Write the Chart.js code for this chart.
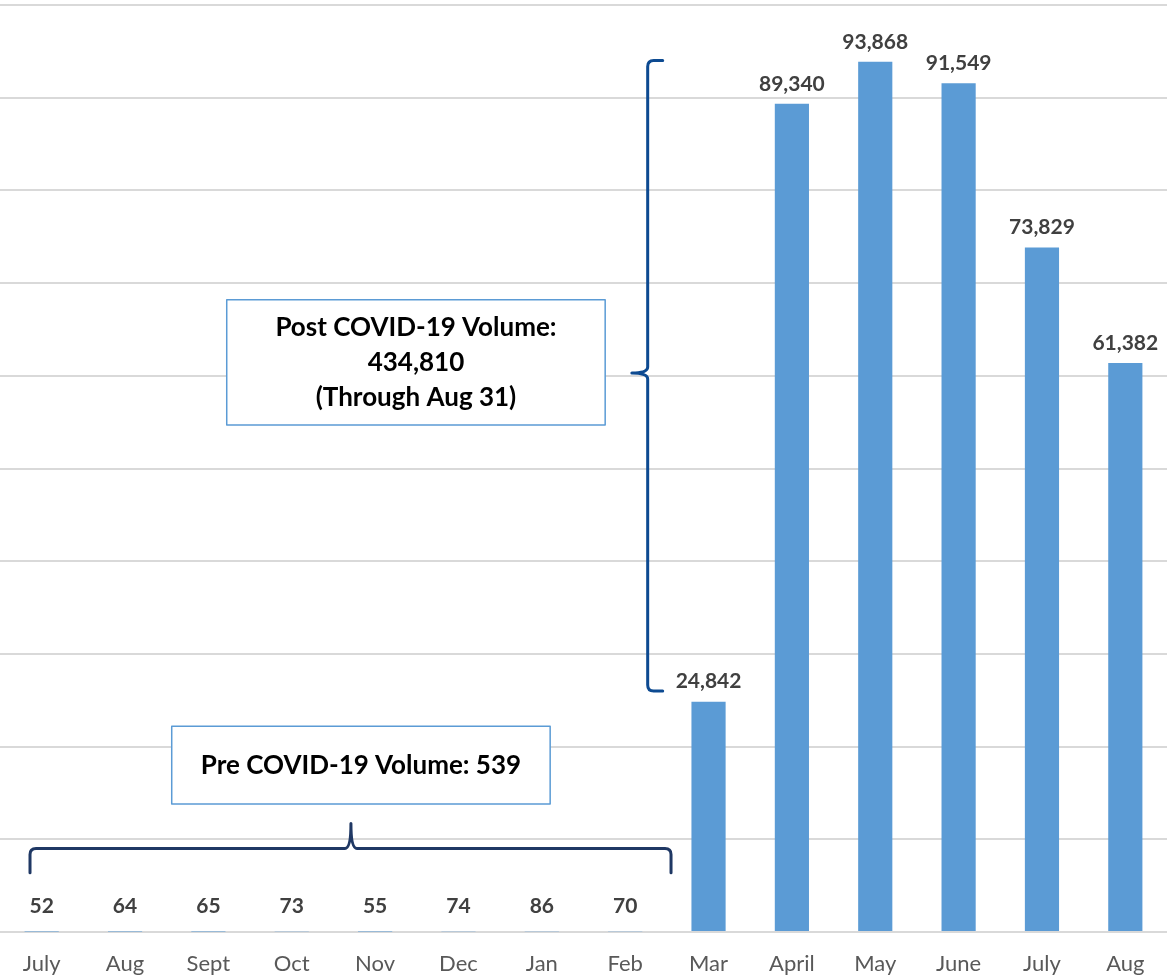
<!DOCTYPE html>
<html>
<head>
<meta charset="utf-8">
<script src="https://cdn.jsdelivr.net/npm/chart.js@4/dist/chart.umd.min.js"></script>
<style>
  html, body { margin: 0; padding: 0; background: #fff; }
  #wrap { width: 1167px; height: 977px; }
</style>
</head>
<body>
<div id="wrap"><canvas id="volumeChart" width="1167" height="977"></canvas></div>
<script>
var months = ['July', 'Aug', 'Sept', 'Oct', 'Nov', 'Dec', 'Jan', 'Feb', 'Mar', 'April', 'May', 'June', 'July', 'Aug'];
var volumes = [52, 64, 65, 73, 55, 74, 86, 70, 24842, 89340, 93868, 91549, 73829, 61382];
var yTicks = [0, 10000, 20000, 30000, 40000, 50000, 60000, 70000, 80000, 90000, 100000];

var postText = ['Post COVID-19 Volume:', '434,810', '(Through Aug 31)'];
var preText = ['Pre COVID-19 Volume: 539'];

var fontFamily = 'Lato, "Open Sans", sans-serif';

// value labels above each bar
var barLabels = {
    id: 'barLabels',
    afterDatasetsDraw(chart) {
        var ctx = chart.ctx;
        var meta = chart.getDatasetMeta(0);
        ctx.save();
        ctx.font = 'bold 21px ' + fontFamily;
        ctx.fillStyle = '#404040';
        ctx.textAlign = 'center';
        ctx.textBaseline = 'middle';
        meta.data.forEach(function (bar, i) {
            var v = volumes[i];
            var off = v < 1000 ? 25 : 20;
            ctx.fillText(v.toLocaleString('en-US'), bar.x, bar.y - off);
        });
        ctx.restore();
    }
};

// braces and text boxes, placed in axis units
var notes = {
    id: 'notes',
    afterDatasetsDraw(chart) {
        var ctx = chart.ctx;
        var xs = chart.scales.x;
        var ys = chart.scales.y;
        var X = function (v) { return xs.getPixelForValue(v); };
        var Y = function (v) { return ys.getPixelForValue(v); };
        var r = 6;

        ctx.save();
        ctx.lineWidth = 3;
        ctx.lineCap = 'round';
        ctx.lineJoin = 'round';

        // vertical brace (post)
        var bx = X(7.27), tipX = X(7.08);
        var top = Y(94000), bot = Y(26000), mid = Y(60300), hook = X(7.45);
        ctx.strokeStyle = '#0d4a91';
        ctx.beginPath();
        ctx.moveTo(hook, top);
        ctx.lineTo(bx + r, top);
        ctx.quadraticCurveTo(bx, top, bx, top + r);
        ctx.lineTo(bx, mid - r);
        ctx.quadraticCurveTo(bx, mid, tipX, mid);
        ctx.quadraticCurveTo(bx, mid, bx, mid + r);
        ctx.lineTo(bx, bot - r);
        ctx.quadraticCurveTo(bx, bot, bx + r, bot);
        ctx.lineTo(hook, bot);
        ctx.stroke();

        // horizontal brace (pre)
        var by = Y(9000), tipY = Y(11700), ends = Y(6400);
        var left = X(-0.14), right = X(7.55), midX = X(3.71);
        ctx.strokeStyle = '#1f3864';
        ctx.beginPath();
        ctx.moveTo(left, ends);
        ctx.lineTo(left, by + r);
        ctx.quadraticCurveTo(left, by, left + r, by);
        ctx.lineTo(midX - r, by);
        ctx.quadraticCurveTo(midX, by, midX, tipY);
        ctx.quadraticCurveTo(midX, by, midX + r, by);
        ctx.lineTo(right - r, by);
        ctx.quadraticCurveTo(right, by, right, by + r);
        ctx.lineTo(right, ends);
        ctx.stroke();

        // text boxes
        function box(x0, x1, y0, y1, lines, gap) {
            var px0 = X(x0), px1 = X(x1), py0 = Y(y0), py1 = Y(y1);
            ctx.fillStyle = '#ffffff';
            ctx.fillRect(px0, py0, px1 - px0, py1 - py0);
            ctx.strokeStyle = '#5b9bd5';
            ctx.lineWidth = 1.5;
            ctx.strokeRect(px0, py0, px1 - px0, py1 - py0);
            ctx.fillStyle = '#000000';
            ctx.font = 'bold 26px ' + fontFamily;
            ctx.textAlign = 'center';
            ctx.textBaseline = 'middle';
            var cx = (px0 + px1) / 2, cy = (py0 + py1) / 2;
            var start = cy - gap * (lines.length - 1) / 2;
            lines.forEach(function (t, i) {
                ctx.fillText(t, cx, start + i * gap);
            });
        }
        box(2.22, 6.76, 68200, 54700, postText, 35);
        box(1.56, 6.10, 22200, 13800, preText, 35);

        ctx.restore();
    }
};

new Chart(document.getElementById('volumeChart'), {
    type: 'bar',
    data: {
        labels: months,
        datasets: [{
            data: volumes,
            backgroundColor: '#5b9bd5',
            categoryPercentage: 1,
            barPercentage: 0.41
        }]
    },
    options: {
        responsive: false,
        animation: false,
        layout: { padding: { top: 5, left: 0, right: 0, bottom: 0 } },
        plugins: {
            legend: { display: false },
            tooltip: { enabled: false }
        },
        scales: {
            x: {
                grid: { display: false, drawTicks: false },
                border: { display: false },
                afterFit: function (axis) { axis.height = 45; },
                ticks: {
                    color: '#595959',
                    font: { family: fontFamily, size: 22 },
                    padding: 19,
                    maxRotation: 0,
                    autoSkip: false
                }
            },
            y: {
                min: yTicks[0],
                max: yTicks[yTicks.length - 1],
                afterBuildTicks: function (axis) {
                    axis.ticks = yTicks.map(function (v) { return { value: v }; });
                },
                grid: { color: '#d9d9d9', lineWidth: 2, drawTicks: false },
                border: { display: false },
                ticks: { display: false }
            }
        }
    },
    plugins: [barLabels, notes]
});
</script>
</body>
</html>
